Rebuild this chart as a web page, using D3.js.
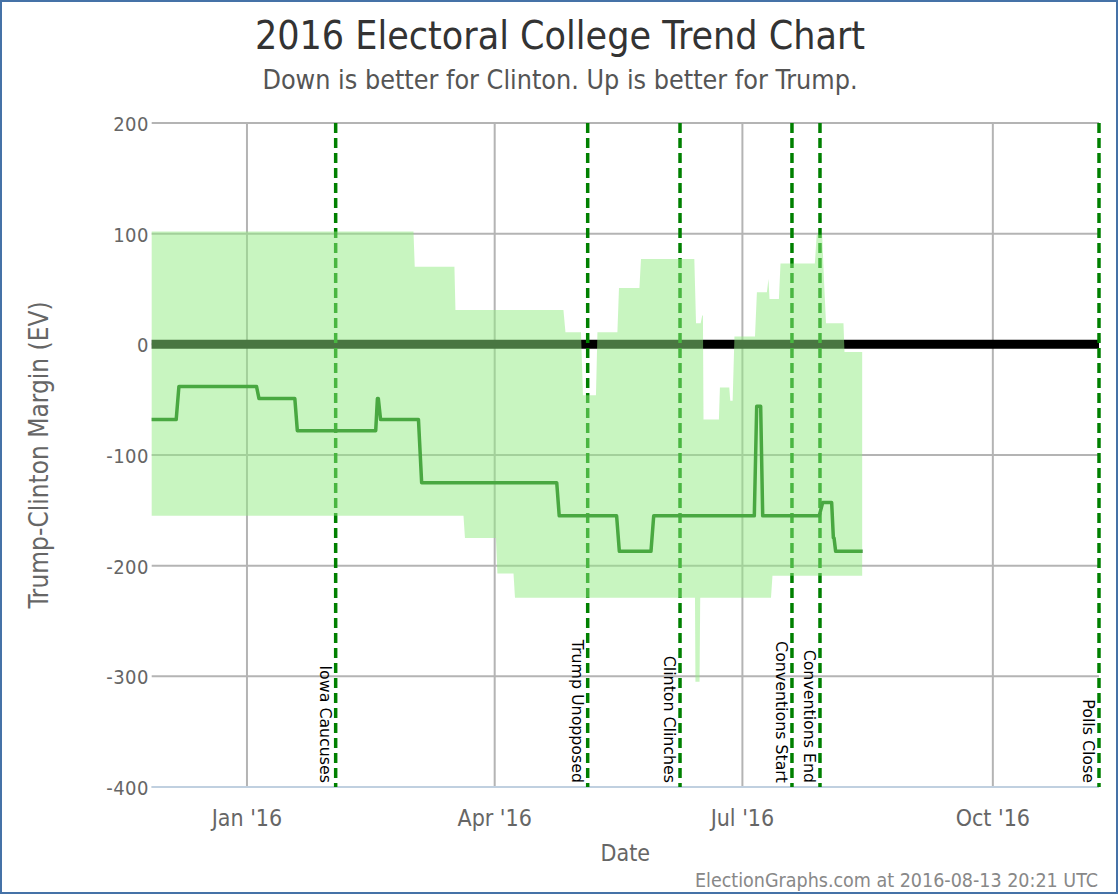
<!DOCTYPE html>
<html><head><meta charset="utf-8">
<script src="https://cdn.jsdelivr.net/npm/d3@7"></script>
<style>
body{margin:0;background:#fff;}
svg text{font-family:"DejaVu Sans Condensed","DejaVu Sans",sans-serif;font-stretch:condensed;}
</style></head><body>
<svg id="c" width="1120" height="896"></svg>
<script>
// ---- data ----
const mainLine = [
  ["2015-11-27T00", -68], ["2015-12-06T00", -68], ["2015-12-07T00", -38],
  ["2016-01-04T12", -38], ["2016-01-05T10", -49], ["2016-01-18T14", -49],
  ["2016-01-19T12", -78], ["2016-02-17T07", -78], ["2016-02-17T22", -49],
  ["2016-02-18T06", -49], ["2016-02-19T02", -68], ["2016-03-04T00", -68],
  ["2016-03-05T04", -125], ["2016-04-23T19", -125], ["2016-04-24T17", -155],
  ["2016-05-15T19", -155], ["2016-05-16T19", -187], ["2016-05-28T10", -187],
  ["2016-05-29T10", -155], ["2016-07-05T09", -155], ["2016-07-06T06", -56],
  ["2016-07-07T17", -56], ["2016-07-08T11", -155], ["2016-07-29T05", -155],
  ["2016-07-30T12", -143], ["2016-08-02T19", -143], ["2016-08-03T10", -175],
  ["2016-08-03T16", -175], ["2016-08-04T06", -187], ["2016-08-14T03", -187]
];
const upperBound = [
  ["2015-11-27T00", 102], ["2016-03-02T04", 102], ["2016-03-02T15", 70],
  ["2016-03-17T05", 70], ["2016-03-17T14", 31], ["2016-04-26T06", 31],
  ["2016-04-27T00", 11], ["2016-05-02T17", 11], ["2016-05-03T10", -46],
  ["2016-05-08T05", -46], ["2016-05-08T18", 11], ["2016-05-16T02", 11],
  ["2016-05-16T16", 51], ["2016-05-24T04", 51], ["2016-05-24T18", 77],
  ["2016-06-13T08", 77], ["2016-06-13T23", 19], ["2016-06-15T16", 19],
  ["2016-06-16T06", 26], ["2016-06-16T12", 26], ["2016-06-16T17", -68],
  ["2016-06-22T09", -68], ["2016-06-22T18", -39], ["2016-06-26T04", -39],
  ["2016-06-26T13", -51], ["2016-06-27T10", -51], ["2016-06-28T02", 7],
  ["2016-07-05T15", 7], ["2016-07-06T08", 47], ["2016-07-10T00", 47],
  ["2016-07-10T14", 59], ["2016-07-10T23", 41], ["2016-07-14T10", 41],
  ["2016-07-15T00", 73], ["2016-07-27T15", 73], ["2016-07-28T07", 99],
  ["2016-07-30T07", 99], ["2016-07-31T02", 52], ["2016-07-31T17", 19],
  ["2016-08-07T03", 19], ["2016-08-07T12", -7], ["2016-08-14T00", -7]
];
const lowerBound = [
  ["2015-11-27T00", -155], ["2016-03-20T13", -155], ["2016-03-21T02", -175],
  ["2016-04-01T11", -175], ["2016-04-02T00", -207], ["2016-04-07T22", -207],
  ["2016-04-08T11", -229], ["2016-06-13T14", -229], ["2016-06-13T18", -305],
  ["2016-06-15T06", -305], ["2016-06-15T12", -229], ["2016-07-11T12", -229],
  ["2016-07-12T01", -209], ["2016-08-14T00", -209]
];
const eventDates = ["2016-02-02T14", "2016-05-05T04", "2016-06-08T02", "2016-07-19T05", "2016-07-29T12", "2016-11-09T00"];
const eventLabels = ["Iowa Caucuses", "Trump Unopposed", "Clinton Clinches", "Conventions Start", "Conventions End", "Polls Close"];
const xTickDates = ["2016-01-01T00", "2016-04-01T00", "2016-07-01T00", "2016-10-01T00"];
const xTickLabels = ["Jan '16", "Apr '16", "Jul '16", "Oct '16"];
const yTickValues = [200, 100, 0, -100, -200, -300, -400];
const xDomain = ["2015-11-27T00", "2016-11-09T00"];
const yDomain = [-400, 200];

// ---- drawing ----
const P = s => new Date(s + ":00Z");
const svg = d3.select("#c");
const L = 151.7, R = 1099, T = 123, B = 787;
const x = d3.scaleUtc().domain(xDomain.map(P)).range([L, R]);
const y = d3.scaleLinear().domain(yDomain).range([B, T]);

// frame
svg.append("rect").attr("x", 1).attr("y", 1).attr("width", 1116).attr("height", 892)
  .attr("fill", "#fff").attr("stroke", "#4572a7").attr("stroke-width", 2);

// title
svg.append("text").attr("x", 560).attr("y", 49).attr("text-anchor", "middle")
  .attr("font-size", 39).attr("fill", "#333").text("2016 Electoral College Trend Chart");
svg.append("text").attr("x", 560).attr("y", 89).attr("text-anchor", "middle")
  .attr("font-size", 26.7).attr("fill", "#555").text("Down is better for Clinton. Up is better for Trump.");

// grid
const g = svg.append("g");
g.selectAll("line.hg").data(yTickValues).join("line")
  .attr("x1", L).attr("x2", R).attr("y1", d => y(d)).attr("y2", d => y(d))
  .attr("stroke", "#b4b4b4").attr("stroke-width", 2);
g.selectAll("line.vg").data(xTickDates).join("line").attr("class", "vg")
  .attr("x1", d => x(P(d))).attr("x2", d => x(P(d))).attr("y1", T).attr("y2", B)
  .attr("stroke", "#b4b4b4").attr("stroke-width", 2);

// y axis labels
svg.append("g").selectAll("text").data(yTickValues).join("text")
  .attr("x", 149).attr("y", d => y(d) + 8).attr("text-anchor", "end")
  .attr("font-size", 20).attr("letter-spacing", 0.5).attr("fill", "#666")
  .text(d => d);

// x axis line + labels
svg.append("line").attr("x1", L).attr("x2", R).attr("y1", B).attr("y2", B)
  .attr("stroke", "#c0d0e0").attr("stroke-width", 2);
svg.append("g").selectAll("text").data(xTickDates).join("text")
  .attr("x", d => x(P(d))).attr("y", 826).attr("text-anchor", "middle")
  .attr("font-size", 23).attr("fill", "#666").text((d, i) => xTickLabels[i]);

svg.append("text").attr("x", (L + R) / 2).attr("y", 861).attr("text-anchor", "middle")
  .attr("font-size", 23).attr("fill", "#666").text("Date");
svg.append("text").attr("transform", `translate(48,${(T + B) / 2}) rotate(-90)`)
  .attr("text-anchor", "middle").attr("font-size", 26).attr("fill", "#666")
  .text("Trump-Clinton Margin (EV)");
svg.append("text").attr("x", 1098).attr("y", 887).attr("text-anchor", "end")
  .attr("font-size", 19.5).attr("fill", "#888").text("ElectionGraphs.com at 2016-08-13 20:21 UTC");

// zero line
svg.append("line").attr("x1", L).attr("x2", R).attr("y1", y(0)).attr("y2", y(0))
  .attr("stroke", "#000").attr("stroke-width", 9);

// event lines
svg.append("g").selectAll("line").data(eventDates).join("line")
  .attr("x1", d => x(P(d))).attr("x2", d => x(P(d))).attr("y1", T).attr("y2", B)
  .attr("stroke", "#008000").attr("stroke-width", 3.5).attr("stroke-dasharray", "10,5");
svg.append("g").selectAll("text").data(eventDates).join("text")
  .attr("transform", d => `translate(${x(P(d)) - 16},783) rotate(90)`)
  .attr("text-anchor", "end").attr("font-size", 15.8).attr("fill", "#000")
  .style("font-family", "'DejaVu Sans', sans-serif").style("font-stretch", "normal")
  .text((d, i) => eventLabels[i]);

// main line
const line = d3.line().x(d => x(P(d[0]))).y(d => y(d[1]));
svg.append("path").attr("d", line(mainLine)).attr("fill", "none")
  .attr("stroke", "#006400").attr("stroke-width", 3.5).attr("stroke-linejoin", "round");

// range area (semi-transparent, over the line)
const areaPath = line(upperBound) + "L" + line(lowerBound.slice().reverse()).slice(1) + "Z";
svg.append("path").attr("d", areaPath).attr("fill", "rgb(146,235,129)").attr("fill-opacity", 0.5);
</script>
</body></html>
